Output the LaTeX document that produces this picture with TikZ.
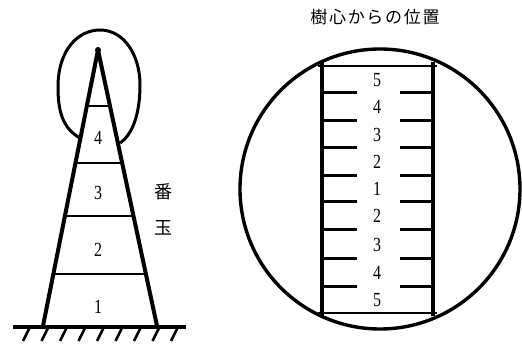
\documentclass[tikz,border=0pt]{standalone}
\usepackage{fontspec}
\setmainfont{Liberation Serif}
\newfontfamily\jpfont{Noto Sans CJK JP}
\begin{document}
\begin{tikzpicture}[x=1pt,y=-1pt,line join=round,
  thickline/.style={line width=4pt},
  thinline/.style={line width=2.6pt},
  numlabel/.style={inner sep=0pt,font=\fontsize{20}{20}\selectfont,xscale=0.8},
  jplabel/.style={inner sep=0pt,font=\jpfont\fontsize{18}{18}\selectfont}]
  \useasboundingbox (0,0) rectangle (522,344);

  % Drawing the tree stem (cone)
  \coordinate (apex) at (98,50);
  \coordinate (baseL) at (43,326);
  \coordinate (baseR) at (157,326);
  \draw [thickline] (baseL) -- (apex) -- (baseR);%
  \fill (apex) circle (3);%

  % Drawing cut lines of the logs
  \draw [thinline] (86.8,106) -- (110.0,106);%
  \draw [thinline] (75.5,163) -- (121.5,163);%
  \draw [thinline] (65.0,216) -- (132.0,216);%
  \draw [thinline] (53.5,274) -- (144.0,274);%

  % Drawing crown outline
  \draw [line width=3pt] (80,138) .. controls (62,128) and (58,110) .. (58,87)
    .. controls (58,50) and (78,30) .. (100,30)
    .. controls (124,30) and (140,55) .. (140,85)
    .. controls (140,115) and (132,135) .. (120,143);%

  % Marking log numbers
  \node [numlabel] (log4) at (98,138) {4};%
  \node [numlabel] (log3) at (98,193) {3};%
  \node [numlabel] (log2) at (98,250) {2};%
  \node [numlabel] (log1) at (98,307) {1};%

  % Drawing ground
  \draw [thickline] (13,327) -- (186,327);%
  \foreach \gx in {30,48.5,67,85.5,104,122.5,141,159.5,178}
    \draw [thinline] (\gx,327) -- (\gx-7,341);%

  % Marking label 番玉
  \node [jplabel] (ban) at (163,192) {番};%
  \node [jplabel] (tama) at (163,228) {玉};%

  % Drawing cross section
  \coordinate (ctr) at (380,189);
  \draw [line width=3.4pt] (ctr) circle (140);%
  \draw [thinline] (318,66) -- (437,66);%
  \draw [thinline] (318,313) -- (437,313);%
  \draw [thickline] (322,62) -- (322,316);%
  \draw [thickline] (433,62) -- (433,316);%

  % Drawing ticks of the positions
  \foreach \ty in {93,121,148,176,202,230,259,287} {
    \draw [line width=3pt] (322,\ty) -- (357,\ty);%
    \draw [line width=3pt] (400,\ty) -- (433,\ty);%
  }

  % Marking position numbers
  \foreach \pn/\py in {5/80,4/107,3/134.5,2/162,1/189,2/216,3/244.5,4/273,5/300}
    \node [numlabel] at (377,\py) {\pn};%

  % Marking title
  \node [jplabel,font=\jpfont\fontsize{17}{17}\selectfont\addfontfeature{LetterSpace=10}] (title) at (375,17) {樹心からの位置};%
\end{tikzpicture}
\end{document}
